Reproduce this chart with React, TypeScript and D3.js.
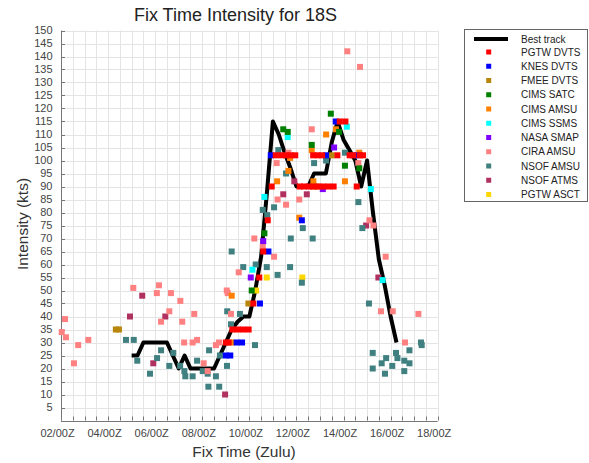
import React from "react";
import * as d3 from "d3";

const W = 589;
const H = 463;

const titleText = "Fix Time Intensity for 18S";
const xAxisLabel = "Fix Time (Zulu)";
const yAxisLabel = "Intensity (kts)";
const xTickDays = [2, 4, 6, 8, 10, 12, 14, 16, 18];
const yTickValues = d3.range(5, 151, 5);

// Best track (DD/HHZ, kts)
const bestTrackTimes = [
  "05/00Z", "05/06Z", "05/12Z", "05/18Z", "06/00Z", "06/06Z", "06/12Z", "06/18Z",
  "07/00Z", "07/06Z", "07/12Z", "07/18Z", "08/00Z", "08/06Z", "08/12Z", "08/18Z",
  "09/00Z", "09/06Z", "09/12Z", "09/18Z", "10/00Z", "10/06Z", "10/12Z", "10/18Z",
  "11/00Z", "11/06Z", "11/12Z", "11/18Z", "12/00Z", "12/06Z", "12/12Z", "12/18Z",
  "13/00Z", "13/06Z", "13/12Z", "13/18Z", "14/00Z", "14/06Z", "14/12Z", "14/18Z",
  "15/00Z", "15/06Z", "15/12Z", "15/18Z", "16/00Z", "16/06Z",
];
const bestTrackKts = [
  25, 25, 30, 30, 30, 30, 30, 25,
  20, 25, 20, 20, 20, 20, 20, 25,
  30, 35, 38, 40, 40, 50, 63, 88,
  115, 110, 103, 97, 90, 90, 90, 95,
  95, 95, 107, 115, 108, 104, 100, 90,
  100, 80, 62, 52, 40, 30,
];

// Fixes: [day of month (fractional), kts]
const pgtwDvts: [number, number][] = [
  [9.0, 30], [9.12, 30], [9.28, 35], [9.5, 35], [9.73, 35], [9.97, 35],
  [10.17, 45], [10.42, 55], [10.59, 65], [10.78, 77], [10.95, 90],
  [11.12, 102], [11.35, 102], [11.56, 102], [11.75, 102], [11.95, 102],
  [12.14, 90], [12.32, 90], [12.52, 90],
  [12.71, 102], [12.9, 102], [13.09, 102], [13.74, 102],
  [12.73, 90], [12.94, 90], [13.15, 90], [13.36, 90], [13.58, 90],
  [13.84, 115], [14.08, 115],
  [14.26, 102], [14.42, 102], [14.7, 102], [14.83, 102], [14.56, 90],
];
const knesDvts: [number, number][] = [
  [9.0, 25], [9.19, 25], [9.46, 30], [9.69, 30], [10.45, 45], [10.81, 65],
  [10.91, 102], [12.23, 77], [13.67, 115], [13.26, 102], [14.56, 102],
];
const fmeeDvts: [number, number][] = [
  [4.33, 35], [4.46, 35], [9.96, 45], [12.7, 90], [12.86, 90], [13.5, 102],
];
const cimsSatc: [number, number][] = [
  [10.1, 50], [10.64, 72], [11.44, 112], [11.63, 111], [12.65, 106],
  [13.46, 118], [13.81, 111], [14.06, 98], [14.67, 97],
];
const cimsAmsu: [number, number][] = [
  [9.25, 48], [9.25, 30], [11.18, 92], [11.66, 96], [11.73, 101], [12.12, 78],
  [12.65, 104], [12.72, 92], [13.26, 110], [13.68, 112], [14.06, 92], [14.67, 103],
];
const cimsSsms: [number, number][] = [
  [10.13, 58], [10.64, 86], [11.63, 109], [14.14, 113], [15.16, 89], [15.66, 54],
];
const nasaSmap: [number, number][] = [
  [10.06, 55], [10.59, 69], [13.12, 89], [13.6, 105],
];
const ciraAmsu: [number, number][] = [
  [2.03, 34], [2.17, 39], [2.21, 32], [2.55, 22], [2.73, 29], [3.16, 31],
  [5.07, 51], [6.07, 49], [6.16, 52], [6.25, 38], [6.6, 42], [6.67, 49],
  [7.07, 46], [7.15, 38], [7.23, 30], [7.59, 30], [7.66, 41], [7.78, 31],
  [8.06, 22], [8.23, 19], [8.58, 29], [8.71, 30], [9.04, 50], [9.08, 49],
  [9.22, 41], [9.55, 57], [10.21, 70], [10.57, 67], [11.05, 63], [11.16, 99],
  [11.2, 85], [11.56, 83], [11.66, 103], [12.12, 85], [12.65, 112],
  [14.16, 142], [14.63, 99], [14.7, 136], [15.1, 77], [15.27, 75],
  [15.59, 42], [15.79, 63], [16.09, 42], [16.61, 30], [17.18, 41],
];
const nsofAmsu: [number, number][] = [
  [4.76, 31], [5.09, 31], [5.24, 23], [5.78, 18], [6.08, 24], [6.25, 27],
  [6.6, 21], [6.77, 26], [7.06, 21], [7.24, 19], [7.28, 17], [7.59, 17],
  [7.78, 23], [8.02, 19], [8.23, 18], [8.26, 13], [8.29, 27], [8.58, 17],
  [8.72, 13], [8.75, 25], [9.05, 21], [9.06, 42], [9.22, 37], [9.25, 65],
  [9.6, 41], [9.74, 59], [10.24, 29], [10.27, 60], [10.57, 81], [10.74, 59],
  [10.76, 79], [11.05, 82], [11.2, 56], [11.23, 104], [11.56, 95], [11.73, 59],
  [11.76, 70], [12.23, 53], [12.27, 74], [12.69, 70], [12.75, 99], [13.26, 100],
  [14.06, 103], [14.63, 84], [14.8, 74], [15.08, 45], [15.24, 26], [15.24, 20],
  [15.62, 22], [15.76, 18], [15.81, 24], [16.07, 21], [16.23, 26], [16.29, 24],
  [16.58, 23], [16.58, 19], [16.8, 27], [16.8, 22], [17.29, 30], [17.32, 29],
];
const nsofAtms: [number, number][] = [
  [4.93, 40], [5.45, 48], [5.92, 22], [6.43, 40], [8.97, 10],
  [11.44, 87], [11.91, 92], [12.44, 87], [14.96, 75], [15.48, 55],
];
const pgtwAsct: [number, number][] = [
  [10.29, 50], [10.74, 55], [12.25, 55],
];

const seriesNames = [
  "PGTW DVTS", "KNES DVTS", "FMEE DVTS", "CIMS SATC", "CIMS AMSU", "CIMS SSMS",
  "NASA SMAP", "CIRA AMSU", "NSOF AMSU", "NSOF ATMS", "PGTW ASCT",
];
const seriesColors = [
  "#ff0000", "#0000ff", "#b8860b", "#008000", "#ff8000", "#00ffff",
  "#8000ff", "#ff8080", "#408080", "#b03060", "#ffd700",
];
const seriesData = [
  pgtwDvts, knesDvts, fmeeDvts, cimsSatc, cimsAmsu, cimsSsms,
  nasaSmap, ciraAmsu, nsofAmsu, nsofAtms, pgtwAsct,
];

function parseTime(s: string): number {
  const [d, h] = s.replace("Z", "").split("/");
  return +d + +h / 24;
}

const FONT = "'Liberation Sans', Arial, Helvetica, sans-serif";

export default function App() {
  const left = 61, right = 437.7, top = 30.5, bottom = 420.5;
  const x = d3.scaleLinear().domain([2, 18]).range([left, right]);
  const y = d3.scaleLinear().domain([0, 150]).range([bottom, top]);

  const vGrid = d3.range(2.5, 18.001, 0.5);
  const line = d3
    .line<number>()
    .x((_, i) => x(parseTime(bestTrackTimes[i])))
    .y((v) => y(v));

  const ms = 6;
  const drawOrder = seriesData.map((_, i) => i).reverse();

  const legX = 464.5, legY = 29.5, legW = 123, legH = 172;
  const legRow0 = 52;
  const legStep = 14.25;

  return (
    <svg
      width={W}
      height={H}
      style={{ position: "absolute", left: 0, top: 0, background: "#fff" }}
      fontFamily={FONT}
    >
      <rect x={0} y={0} width={W} height={H} fill="#fff" />
      {/* grid */}
      {vGrid.map((d) => (
        <line key={"vg" + d} x1={Math.round(x(d)) + 0.5} x2={Math.round(x(d)) + 0.5}
          y1={y(150)} y2={y(0)} stroke="#e4e4e4" strokeWidth={1} />
      ))}
      {yTickValues.map((v) => (
        <line key={"hg" + v} x1={left} x2={right} y1={Math.round(y(v)) + 0.5}
          y2={Math.round(y(v)) + 0.5} stroke="#e4e4e4" strokeWidth={1} />
      ))}
      {/* axes */}
      <line x1={left + 0.5} x2={left + 0.5} y1={y(150)} y2={y(0)} stroke="#777" strokeWidth={1} />
      <line x1={left} x2={right} y1={Math.round(y(0)) + 0.5} y2={Math.round(y(0)) + 0.5} stroke="#777" strokeWidth={1} />
      {yTickValues.map((v) => (
        <g key={"yt" + v}>
          <line x1={left} x2={left + 4} y1={Math.round(y(v)) + 0.5} y2={Math.round(y(v)) + 0.5} stroke="#777" />
          <text x={left - 8.5} y={y(v)} dy="0.35em" textAnchor="end" fontSize={11} fill="#444">
            {v}
          </text>
        </g>
      ))}
      {vGrid.concat([2]).map((d) => (
        <line key={"xt" + d} x1={Math.round(x(d)) + 0.5} x2={Math.round(x(d)) + 0.5}
          y1={y(0) - 4} y2={y(0)} stroke="#777" />
      ))}
      {xTickDays.map((d) => (
        <text key={"xl" + d} x={x(d) - 3.5} y={436.5} textAnchor="middle" fontSize={11} fill="#444">
          {`${String(d).padStart(2, "0")}/00Z`}
        </text>
      ))}
      {/* titles */}
      <text x={235.5} y={20.5} textAnchor="middle" fontSize={18} fill="#222">
        {titleText}
      </text>
      <text x={244} y={456.5} textAnchor="middle" fontSize={15.5} fill="#333">
        {xAxisLabel}
      </text>
      <text transform={`translate(28,224) rotate(-90)`} textAnchor="middle" fontSize={15.5} fill="#333">
        {yAxisLabel}
      </text>
      {/* best track */}
      <path d={line(bestTrackKts) || ""} fill="none" stroke="#000" strokeWidth={4} strokeLinejoin="round" />
      {/* fixes */}
      {drawOrder.map((si) => (
        <g key={"s" + si} fill={seriesColors[si]}>
          {seriesData[si].map(([d, v], j) => (
            <rect key={j} x={x(d) - ms / 2} y={y(v) - ms / 2} width={ms} height={ms} />
          ))}
        </g>
      ))}
      {/* legend */}
      <rect x={legX} y={legY} width={legW} height={legH} fill="#fff" stroke="#666" strokeWidth={1} />
      <line x1={474} x2={508} y1={39} y2={39} stroke="#000" strokeWidth={4} />
      <text x={521} y={39} dy="0.35em" fontSize={10} fill="#222">Best track</text>
      {seriesNames.map((name, i) => (
        <g key={"lg" + i}>
          <rect x={488.7 - 2.5} y={legRow0 + i * legStep - 2.5} width={5} height={5} fill={seriesColors[i]} />
          <text x={521} y={legRow0 + i * legStep} dy="0.35em" fontSize={10} fill="#222">
            {name}
          </text>
        </g>
      ))}
    </svg>
  );
}
